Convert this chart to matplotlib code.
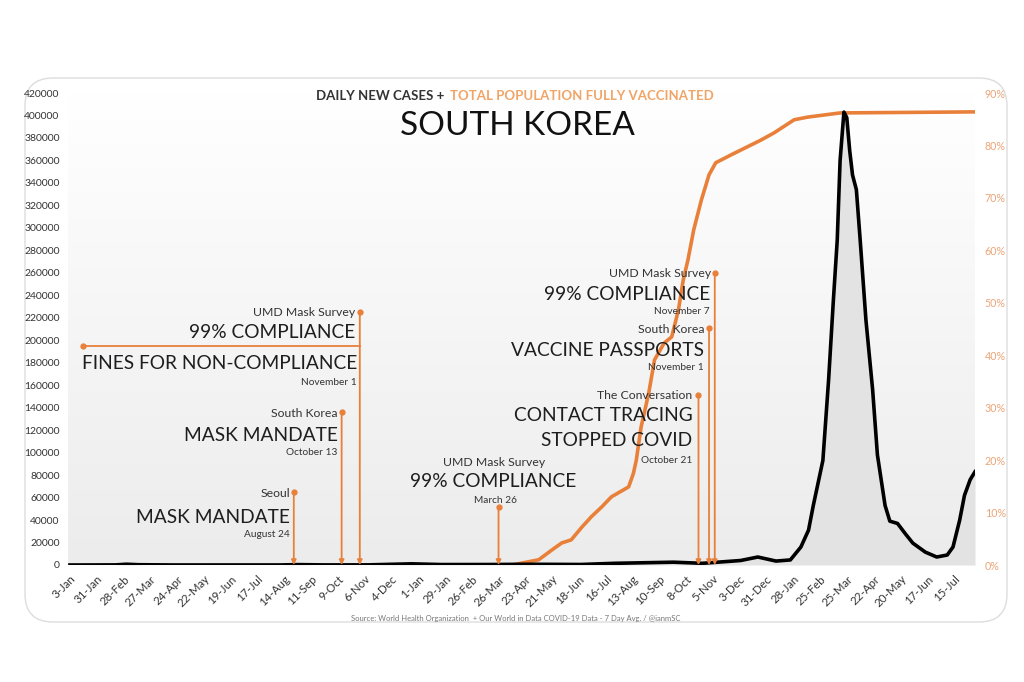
import numpy as np
import pandas as pd
import matplotlib.pyplot as plt
from matplotlib.patches import FancyBboxPatch
from matplotlib.colors import LinearSegmentedColormap

plt.rcParams['font.family'] = ['Lato', 'DejaVu Sans']

# daily new cases, 7 day average
case_dates = ['2020-01-03', '2020-02-20', '2020-03-02', '2020-03-15', '2020-04-20',
              '2020-08-10', '2020-08-28', '2020-09-25', '2020-11-10', '2020-12-25',
              '2021-01-25', '2021-03-15', '2021-05-01', '2021-06-20', '2021-07-25',
              '2021-09-25', '2021-10-25', '2021-12-04', '2021-12-22', '2022-01-10',
              '2022-01-25', '2022-02-05', '2022-02-13', '2022-02-18', '2022-02-28',
              '2022-03-06', '2022-03-11', '2022-03-15', '2022-03-18', '2022-03-22',
              '2022-03-25', '2022-03-28', '2022-03-31', '2022-04-04', '2022-04-08',
              '2022-04-14', '2022-04-21', '2022-04-26', '2022-05-04', '2022-05-09',
              '2022-05-17', '2022-05-25', '2022-06-02', '2022-06-15', '2022-06-27',
              '2022-07-08', '2022-07-14', '2022-07-21', '2022-07-26', '2022-08-01',
              '2022-08-06']
case_values = [0, 100, 700, 250, 30,
               40, 350, 80, 120, 1050,
               400, 430, 650, 450, 1500,
               2500, 1500, 4000, 7100, 3500,
               4500, 16000, 31000, 53000, 93000,
               165000, 236000, 289000, 360000, 403000,
               398000, 369000, 347000, 334000, 289000,
               218000, 156000, 98000, 53000, 39000,
               37000, 28000, 19500, 11500, 7100,
               8900, 16000, 40000, 62000, 76000,
               83000]

# total population fully vaccinated, %
vax_dates = ['2021-04-09', '2021-05-07', '2021-05-21', '2021-05-31', '2021-06-10',
             '2021-06-21', '2021-07-01', '2021-07-12', '2021-07-22', '2021-08-09',
             '2021-08-14', '2021-08-17', '2021-08-22', '2021-08-30', '2021-09-05',
             '2021-09-15', '2021-09-23', '2021-09-30', '2021-10-05', '2021-10-10',
             '2021-10-16', '2021-10-24', '2021-11-01', '2021-11-08', '2021-11-24',
             '2021-12-25', '2022-01-08', '2022-01-29', '2022-02-12', '2022-03-01',
             '2022-03-18', '2022-08-06']
vax_pct = [0, 1.0, 2.9, 4.2, 4.8,
           7.2, 9.2, 11.1, 13.0, 14.9,
           17.5, 20.0, 26.3, 32.8, 39.1,
           42.3, 43.5, 48.6, 54.3, 58.2,
           63.9, 69.6, 74.4, 76.7, 78.2,
           81.0, 82.4, 84.9, 85.4, 85.8,
           86.2, 86.4]

tick_dates = pd.date_range('2020-01-03', '2022-07-15', freq='28D')
tick_labels = [f"{d.day}-{d:%b}" for d in tick_dates]
left_ticks = list(range(0, 420001, 20000))
right_ticks = list(range(0, 91, 10))

# event notes: date, top of marker, alignment, (text, y, kind, dx px)
notes = [
    dict(date='2020-08-24', top=65000, ha='right', lines=[
        ('Seoul', 63200, 's', -4), ('MASK MANDATE', 42700, 'b', -4), ('August 24', 26700, 'd', -4)]),
    dict(date='2020-10-13', top=136000, ha='right', lines=[
        ('South Korea', 135200, 's', -4), ('MASK MANDATE', 114800, 'b', -4), ('October 13', 99700, 'd', -4)]),
    dict(date='2020-11-01', top=225000, ha='right', lines=[
        ('UMD Mask Survey', 225100, 's', -5), ('99% COMPLIANCE', 207300, 'b', -5),
        ('FINES FOR NON-COMPLIANCE', 179700, 'b', -3), ('November 1', 162800, 'd', -3)]),
    dict(date='2021-03-26', top=52000, ha='center', lines=[
        ('UMD Mask Survey', 91600, 's', -4), ('99% COMPLIANCE', 73900, 'b', -5), ('March 26', 57800, 'd', -3)]),
    dict(date='2021-10-21', top=151000, ha='right', lines=[
        ('The Conversation', 150400, 's', -6), ('CONTACT TRACING', 132600, 'b', -6),
        ('STOPPED COVID', 111200, 'b', -6), ('October 21', 93400, 'd', -6)]),
    dict(date='2021-11-01', top=211000, ha='right', lines=[
        ('South Korea', 210000, 's', -5), ('VACCINE PASSPORTS', 191300, 'b', -5), ('November 1', 175300, 'd', -5)]),
    dict(date='2021-11-07', top=260000, ha='right', lines=[
        ('UMD Mask Survey', 259800, 's', -4), ('99% COMPLIANCE', 241100, 'b', -5), ('November 7', 226000, 'd', -5)]),
]
fines_start, fines_end, fines_y = '2020-01-17', '2020-11-01', 194900

orange = '#e8803a'
dark = '#1e1e1e'
text_style = {'s': dict(fontsize=8.8, color='#333333'),
              'b': dict(fontsize=13.8, color=dark),
              'd': dict(fontsize=7.3, color='#333333')}

fig = plt.figure(figsize=(10.24, 6.82), dpi=100)

# card + gradient background, in pixel units
bg = fig.add_axes([0, 0, 1, 1])
bg.add_patch(FancyBboxPatch((25, 78), 982, 544, boxstyle='round,pad=0,rounding_size=28',
                            fc='white', ec='#dddddd', lw=1, zorder=0))
grad = np.linspace(0, 1, 256)[:, None]
cmap = LinearSegmentedColormap.from_list('g', ['#ffffff', '#ececec'])
bg.imshow(grad, cmap=cmap, extent=[68, 975, 565, 93], aspect='auto', zorder=1)
bg.set_xlim(0, 1024)
bg.set_ylim(682, 0)
bg.axis('off')

ax = fig.add_axes([68 / 1024, 1 - 565 / 682, 907 / 1024, 472 / 682])
ax2 = ax.twinx()
ax.set_zorder(ax2.get_zorder() + 1)
ax.patch.set_visible(False)
ax2.patch.set_visible(False)

cd = pd.to_datetime(case_dates)
vd = pd.to_datetime(vax_dates)

ax.fill_between(cd, case_values, color='#e3e3e3', lw=0, zorder=1)
ax.plot(cd, case_values, color='black', lw=2.6, solid_joinstyle='round', zorder=3)
ax2.plot(vd, vax_pct, color=orange, lw=2.6, solid_joinstyle='round')

ax.set_xlim(pd.Timestamp('2020-01-01'), pd.Timestamp('2022-08-06'))
ax.set_ylim(0, 420000)
ax2.set_ylim(0, 90)

ax.set_yticks(left_ticks)
ax.set_yticklabels([str(v) for v in left_ticks])
ax2.set_yticks(right_ticks)
ax2.set_yticklabels([f'{v}%' for v in right_ticks])
ax.set_xticks(tick_dates)
ax.set_xticklabels(tick_labels, rotation=45, ha='right', va='top', rotation_mode='anchor')

ax.tick_params(axis='y', length=0, pad=6, labelsize=7.5, labelcolor='#333333')
ax.tick_params(axis='x', length=0, pad=6, labelsize=8.3, labelcolor='#333333')
ax2.tick_params(axis='y', length=0, pad=7, labelsize=7.7, labelcolor='#eba476')
for a in (ax, ax2):
    for s in a.spines.values():
        s.set_visible(False)

# event markers
for n in notes:
    d = pd.Timestamp(n['date'])
    ax.annotate('', xy=(d, 0), xytext=(d, n['top']),
                arrowprops=dict(arrowstyle='-|>', color=orange, lw=1.3,
                                shrinkA=0, shrinkB=0, mutation_scale=7), zorder=4)
    ax.plot([d], [n['top']], 'o', color=orange, ms=3.5, zorder=4)
    for txt, y, kind, dx in n['lines']:
        ax.annotate(txt, xy=(d, y), xytext=(dx * 0.72, 0), textcoords='offset points',
                    ha=n['ha'], va='center', zorder=5, **text_style[kind])

fs, fe = pd.Timestamp(fines_start), pd.Timestamp(fines_end)
ax.plot([fs, fe], [fines_y, fines_y], color=orange, lw=1.3, zorder=4)
ax.plot([fs], [fines_y], 'o', color=orange, ms=3.5, zorder=4)

# titles
fig.text(448 / 1024, 1 - 96 / 682, 'DAILY NEW CASES + ', ha='right', va='center',
         fontsize=9.5, fontweight='bold', color='#333333')
fig.text(450 / 1024, 1 - 96 / 682, 'TOTAL POPULATION FULLY VACCINATED', ha='left', va='center',
         fontsize=9.5, fontweight='bold', color='#f0a466')
fig.text(517 / 1024, 1 - 126 / 682, 'SOUTH KOREA', ha='center', va='center',
         fontsize=24, color='#111111')
fig.text(516 / 1024, 1 - 618 / 682,
         'Source: World Health Organization  + Our World in Data COVID-19 Data - 7 Day Avg. / @ianmSC',
         ha='center', va='center', fontsize=5.5, color='#777777')

fig.savefig('out.png', dpi=100)
